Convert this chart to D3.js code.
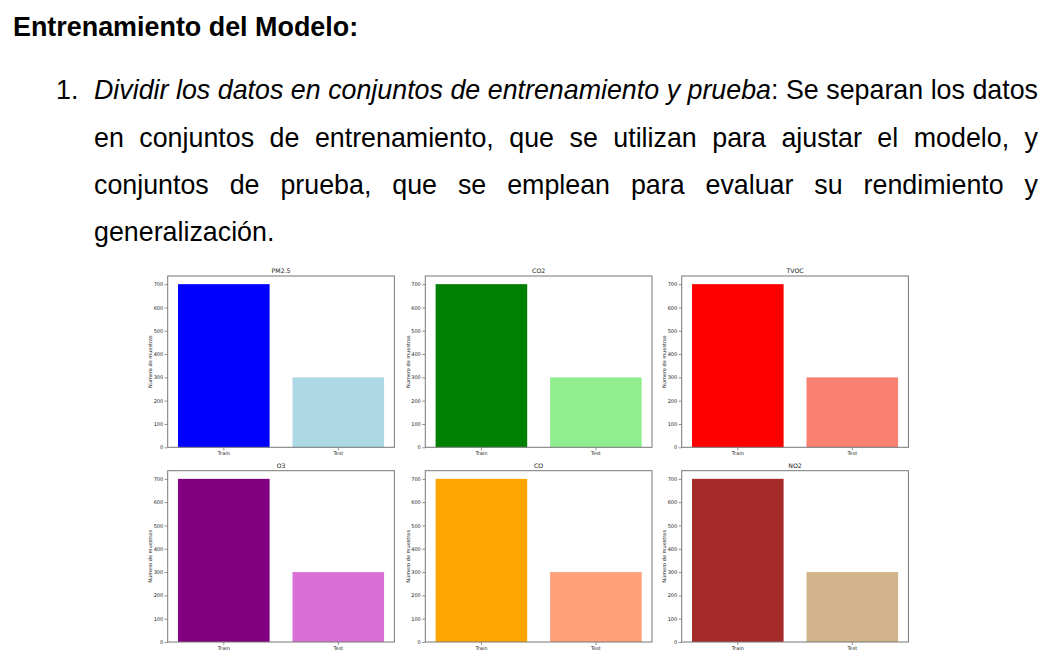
<!DOCTYPE html>
<html>
<head>
<meta charset="utf-8">
<script src="https://cdn.jsdelivr.net/npm/d3@7"></script>
<style>
  html, body { margin: 0; padding: 0; background: #fff; }
  svg { display: block; }
</style>
</head>
<body>
<svg id="chart" width="1050" height="670"></svg>
<script>
// ---- data ----
const categories = ["Train", "Test"];
const pollutants = ["PM2.5", "CO2", "TVOC", "O3", "CO", "NO2"];
const trainCounts = [700, 700, 700, 700, 700, 700];
const testCounts = [300, 300, 300, 300, 300, 300];
const yTicks = [0, 100, 200, 300, 400, 500, 600, 700];
const yLabel = "Número de muestras";

// ---- palette ----
const trainColors = ["#0000ff", "#008000", "#ff0000", "#800080", "#ffa500", "#a52a2a"];
const testColors = ["#add8e6", "#90ee90", "#fa8072", "#da70d6", "#ffa07a", "#d2b48c"];

// ---- text ----
const heading = "Entrenamiento del Modelo:";
const bodyLines = [
  { justify: true, words: [
    [["Dividir", true]], [["los", true]], [["datos", true]], [["en", true]], [["conjuntos", true]],
    [["de", true]], [["entrenamiento", true]], [["y", true]], [["prueba", true], [":", false]],
    [["Se", false]], [["separan", false]], [["los", false]], [["datos", false]]
  ]},
  { justify: true, text: "en conjuntos de entrenamiento, que se utilizan para ajustar el modelo, y" },
  { justify: true, text: "conjuntos de prueba, que se emplean para evaluar su rendimiento y" },
  { justify: false, text: "generalización." }
];

const svg = d3.select("#chart");
svg.append("rect").attr("width", 1050).attr("height", 670).attr("fill", "#fff");

// heading
svg.append("text")
  .attr("x", 13).attr("y", 36)
  .attr("font-family", "'Liberation Sans', Arial, sans-serif")
  .attr("font-weight", "bold")
  .attr("font-size", 26.9)
  .attr("fill", "#000")
  .text(heading);

// list item
const bodyFont = "'Liberation Sans', Arial, sans-serif";
const textLeft = 94, textRight = 1038;
const baselines = [99, 146.5, 193.5, 240.5];

// fit font size so that first line sets naturally across the column
const probe = svg.append("text").attr("font-family", bodyFont).attr("font-size", 24);
bodyLines[0].words.forEach((parts, i) => {
  parts.forEach(([s, it], k) => {
    probe.append("tspan").attr("font-style", it ? "italic" : "normal")
      .text((i > 0 && k === 0 ? " " : "") + s);
  });
});
const bodySize = 24 * (textRight - textLeft) / probe.node().getComputedTextLength();
probe.remove();

svg.append("text")
  .attr("x", 56).attr("y", baselines[0])
  .attr("font-family", bodyFont).attr("font-size", bodySize).attr("fill", "#000")
  .text("1.");

bodyLines.forEach((line, li) => {
  const words = line.words || line.text.split(" ").map(w => [[w, false]]);
  const nodes = words.map(parts => {
    const t = svg.append("text")
      .attr("y", baselines[li])
      .attr("font-family", bodyFont).attr("font-size", bodySize).attr("fill", "#000");
    parts.forEach(([s, it]) => {
      t.append("tspan").attr("font-style", it ? "italic" : "normal").text(s);
    });
    return t;
  });
  const widths = nodes.map(n => n.node().getComputedTextLength());
  const total = d3.sum(widths);
  let gap = bodySize * 0.278;
  if (line.justify && nodes.length > 1) gap = (textRight - textLeft - total) / (nodes.length - 1);
  let x = textLeft;
  nodes.forEach((n, i) => { n.attr("x", x); x += widths[i] + gap; });
});

// ---- charts ----
const colLefts = [167.7, 425.3, 681.7];
const rowTops = [276, 470.7];
const axW = 226.7, axH = 171.3;
const chartFont = "'DejaVu Sans', sans-serif";
const tickSize = 5;

pollutants.forEach((name, i) => {
  const col = i % 3, row = Math.floor(i / 3);
  const g = svg.append("g").attr("transform", `translate(${colLefts[col]},${rowTops[row]})`);

  const x = d3.scaleBand().domain(categories).range([0, axW]).paddingInner(0.2).paddingOuter(0.09);
  const y = d3.scaleLinear().domain([0, 735]).range([axH, 0]);

  const vals = [trainCounts[i], testCounts[i]];
  const cols = [trainColors[i], testColors[i]];

  g.selectAll("rect.bar").data(categories).join("rect")
    .attr("class", "bar")
    .attr("x", d => x(d))
    .attr("width", x.bandwidth())
    .attr("y", (d, j) => y(vals[j]))
    .attr("height", (d, j) => axH - y(vals[j]))
    .attr("fill", (d, j) => cols[j]);

  // y axis
  const ya = g.append("g").call(d3.axisLeft(y).tickValues(yTicks).tickSize(3).tickPadding(1.5));
  ya.select(".domain").remove();
  ya.selectAll("line").attr("stroke", "#444").attr("stroke-width", 0.6);
  ya.selectAll("text").attr("font-family", chartFont).attr("font-size", tickSize).attr("fill", "#222");

  // x axis
  const xa = g.append("g").attr("transform", `translate(0,${axH})`)
    .call(d3.axisBottom(x).tickSize(3).tickPadding(1.2));
  xa.select(".domain").remove();
  xa.selectAll("line").attr("stroke", "#444").attr("stroke-width", 0.6);
  xa.selectAll("text").attr("font-family", chartFont).attr("font-size", tickSize).attr("fill", "#222");

  // frame
  g.append("rect").attr("width", axW).attr("height", axH)
    .attr("fill", "none").attr("stroke", "#777").attr("stroke-width", 1);

  // title
  g.append("text")
    .attr("x", axW / 2).attr("y", -3)
    .attr("text-anchor", "middle")
    .attr("font-family", chartFont).attr("font-size", 6.2).attr("fill", "#222")
    .text(name);

  // y label
  g.append("text")
    .attr("transform", `translate(-15.5,${axH / 2}) rotate(-90)`)
    .attr("text-anchor", "middle")
    .attr("font-family", chartFont).attr("font-size", tickSize).attr("fill", "#222")
    .text(yLabel);
});
</script>
</body>
</html>
